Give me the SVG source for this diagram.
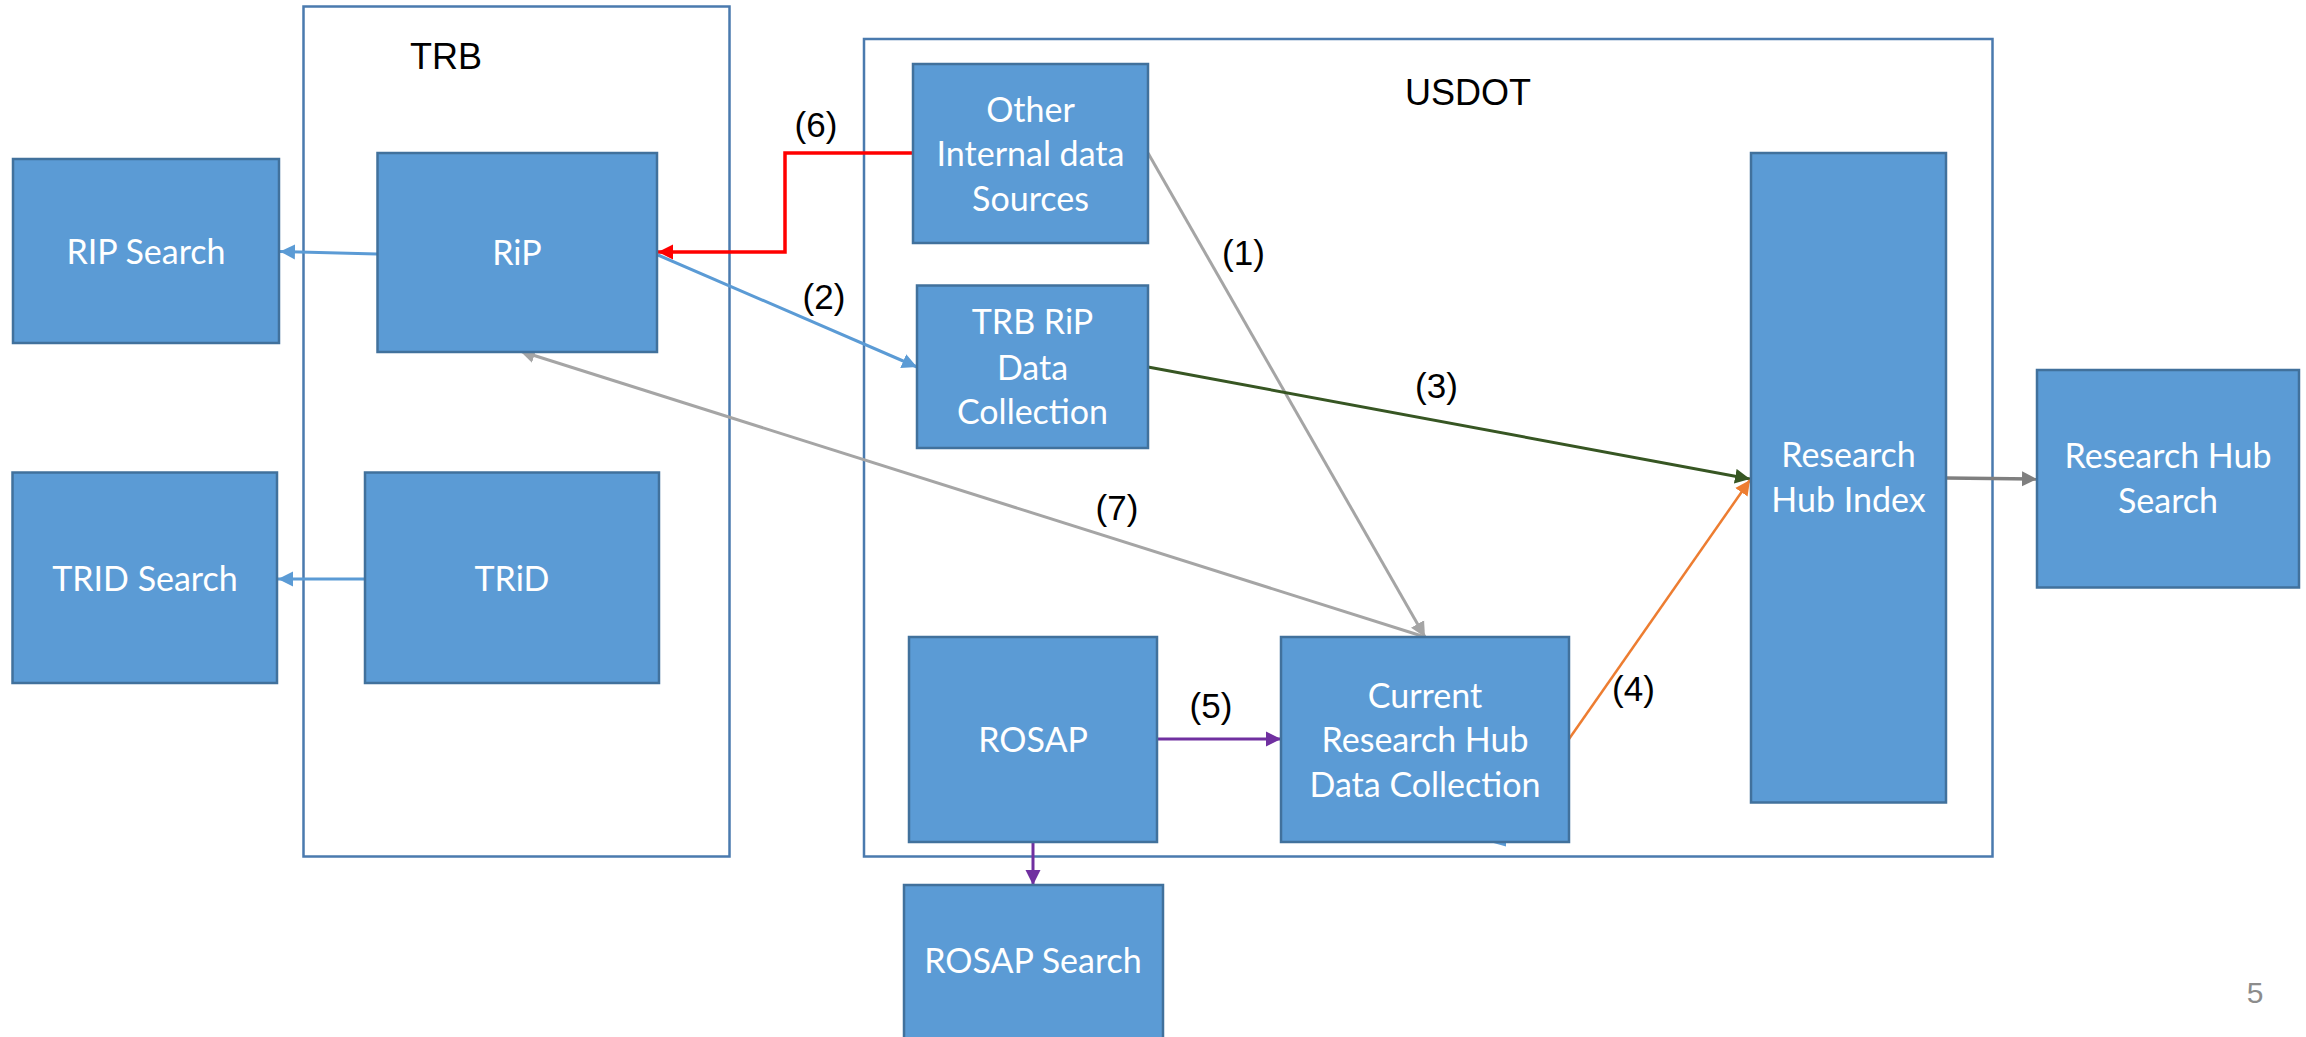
<svg xmlns="http://www.w3.org/2000/svg" width="2306" height="1037" viewBox="0 0 2306 1037">
<defs>
<style>
.box{fill:#5B9BD5;stroke:#41719C;stroke-width:2.5}
.cont{fill:none;stroke:#4A7AAE;stroke-width:2.5}
.nt{font-family:Lato,"Open Sans",sans-serif;font-size:34px;fill:#FFFFFF;text-anchor:middle}
.ct{font-family:"Liberation Sans",Arial,sans-serif;font-size:36px;fill:#000000;text-anchor:middle}
.lb{font-family:"Liberation Sans",Arial,sans-serif;font-size:35px;fill:#000000;text-anchor:middle}
.ln{fill:none}
</style>
<marker id="aBlue" markerUnits="userSpaceOnUse" markerWidth="16" markerHeight="16" refX="15" refY="8" orient="auto"><path d="M0,0.5 L15,8 L0,15.5 z" fill="#5B9BD5"/></marker>
<marker id="aRed" markerUnits="userSpaceOnUse" markerWidth="16" markerHeight="16" refX="15" refY="8" orient="auto"><path d="M0,0.5 L15,8 L0,15.5 z" fill="#FF0000"/></marker>
<marker id="aGray" markerUnits="userSpaceOnUse" markerWidth="16" markerHeight="16" refX="15" refY="8" orient="auto"><path d="M0,0.5 L15,8 L0,15.5 z" fill="#A5A5A5"/></marker>
<marker id="aDGray" markerUnits="userSpaceOnUse" markerWidth="16" markerHeight="16" refX="15" refY="8" orient="auto"><path d="M0,0.5 L15,8 L0,15.5 z" fill="#7F7F7F"/></marker>
<marker id="aGreen" markerUnits="userSpaceOnUse" markerWidth="16" markerHeight="16" refX="15" refY="8" orient="auto"><path d="M0,0.5 L15,8 L0,15.5 z" fill="#375623"/></marker>
<marker id="aOrange" markerUnits="userSpaceOnUse" markerWidth="16" markerHeight="16" refX="15" refY="8" orient="auto"><path d="M0,0.5 L15,8 L0,15.5 z" fill="#ED7D31"/></marker>
<marker id="aPurple" markerUnits="userSpaceOnUse" markerWidth="16" markerHeight="16" refX="15" refY="8" orient="auto"><path d="M0,0.5 L15,8 L0,15.5 z" fill="#7030A0"/></marker>
</defs>
<rect width="2306" height="1037" fill="#FFFFFF"/>

<g id="trb-container">
<rect class="cont" x="303.5" y="6.5" width="426" height="850"/>
<text class="ct" x="446" y="69">TRB</text>
</g>
<g id="usdot-container">
<rect class="cont" x="864" y="39" width="1128.5" height="817.5"/>
<text class="ct" x="1468" y="105">USDOT</text>
</g>

<g id="connectors">
<path class="ln" d="M377,254 L280,251.5" stroke="#5B9BD5" stroke-width="3" marker-end="url(#aBlue)"/>
<path class="ln" d="M365,579 L278,579" stroke="#5B9BD5" stroke-width="3" marker-end="url(#aBlue)"/>
<path class="ln" d="M913,153 H785 V252 H658" stroke="#FF0000" stroke-width="3.5" marker-end="url(#aRed)"/>
<path class="ln" d="M658,255 L917,367" stroke="#5B9BD5" stroke-width="3" marker-end="url(#aBlue)"/>
<path class="ln" d="M1148,153 L1425,637" stroke="#A5A5A5" stroke-width="3" marker-end="url(#aGray)"/>
<path class="ln" d="M1425,637 L520,351" stroke="#A5A5A5" stroke-width="3" marker-end="url(#aGray)"/>
<path class="ln" d="M1148,367 L1750,479" stroke="#375623" stroke-width="3" marker-end="url(#aGreen)"/>
<path class="ln" d="M1569,739 L1750,480" stroke="#ED7D31" stroke-width="2.5" marker-end="url(#aOrange)"/>
<path class="ln" d="M1157,739 L1281,739" stroke="#7030A0" stroke-width="3" marker-end="url(#aPurple)"/>
<path class="ln" d="M1033,842 L1033,885" stroke="#7030A0" stroke-width="3" marker-end="url(#aPurple)"/>
<path class="ln" d="M1946,478 L2037,479" stroke="#7F7F7F" stroke-width="3.5" marker-end="url(#aDGray)"/>
<polygon points="1490,842 1506,842 1506,846.5" fill="#5B9BD5"/>
<text class="lb" x="816" y="137">(6)</text>
<text class="lb" x="824" y="309">(2)</text>
<text class="lb" x="1243.5" y="265">(1)</text>
<text class="lb" x="1436.5" y="398">(3)</text>
<text class="lb" x="1117" y="520">(7)</text>
<text class="lb" x="1211" y="718">(5)</text>
<text class="lb" x="1633.5" y="701">(4)</text>
</g>

<g id="rip-search">
<rect class="box" x="13" y="159" width="266" height="184"/>
<text class="nt" x="146" y="264">RIP Search</text>
</g>
<g id="rip">
<rect class="box" x="377.5" y="153" width="279.5" height="199"/>
<text class="nt" x="517" y="265">RiP</text>
</g>
<g id="trid-search">
<rect class="box" x="12.5" y="472.5" width="264.5" height="210.5"/>
<text class="nt" x="145" y="591">TRID Search</text>
</g>
<g id="trid">
<rect class="box" x="365" y="472.5" width="294" height="210.5"/>
<text class="nt" x="512" y="591">TRiD</text>
</g>
<g id="other-sources">
<rect class="box" x="913" y="64" width="235" height="179"/>
<text class="nt" x="1030.5" y="122">Other</text>
<text class="nt" x="1030.5" y="166">Internal data</text>
<text class="nt" x="1030.5" y="211">Sources</text>
</g>
<g id="trb-rip-collection">
<rect class="box" x="917" y="285.5" width="231" height="162.5"/>
<text class="nt" x="1032.5" y="334">TRB RiP</text>
<text class="nt" x="1032.5" y="380">Data</text>
<text class="nt" x="1032.5" y="424">Collection</text>
</g>
<g id="research-hub-index">
<rect class="box" x="1751" y="153" width="195" height="649.5"/>
<text class="nt" x="1848.5" y="467">Research</text>
<text class="nt" x="1848.5" y="512">Hub Index</text>
</g>
<g id="research-hub-search">
<rect class="box" x="2037" y="370" width="262" height="217.5"/>
<text class="nt" x="2168" y="468">Research Hub</text>
<text class="nt" x="2168" y="513">Search</text>
</g>
<g id="rosap">
<rect class="box" x="909" y="637" width="248" height="205"/>
<text class="nt" x="1033" y="752">ROSAP</text>
</g>
<g id="current-research-hub">
<rect class="box" x="1281" y="637" width="288" height="205"/>
<text class="nt" x="1425" y="708">Current</text>
<text class="nt" x="1425" y="752">Research Hub</text>
<text class="nt" x="1425" y="797">Data Collection</text>
</g>
<g id="rosap-search">
<rect class="box" x="904" y="885" width="259" height="170"/>
<text class="nt" x="1033" y="973">ROSAP Search</text>
</g>
<text x="2255" y="1003" font-family="Liberation Sans, Arial, sans-serif" font-size="30" fill="#8C8C8C" text-anchor="middle">5</text>
</svg>
